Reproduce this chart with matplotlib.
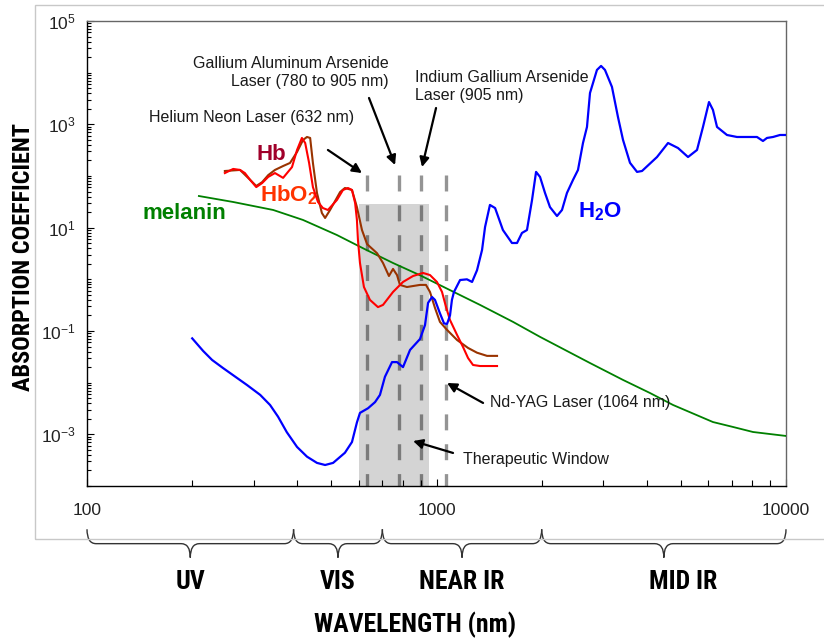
import numpy as np
import matplotlib
matplotlib.use("Agg")
import matplotlib.pyplot as plt
from matplotlib.path import Path
from matplotlib.patches import PathPatch, Rectangle
from matplotlib import font_manager
from matplotlib.font_manager import FontProperties
from matplotlib.ticker import FixedLocator, FixedFormatter, NullFormatter

# ---------------- data ----------------
water_nm = [200, 215, 228, 245, 287, 313, 334, 352, 373, 399,
            426, 455, 480, 506, 547, 573, 592, 604, 637, 667,
            689, 712, 746, 771, 802, 840, 897, 927, 946, 971,
            990, 1023, 1051, 1072, 1093, 1107, 1122, 1168, 1222, 1264,
            1306, 1350, 1377, 1422, 1471, 1549, 1644, 1700, 1756, 1815,
            1876, 1927, 1978, 2044, 2112, 2212, 2286, 2362, 2458, 2540,
            2625, 2695, 2749, 2878, 2957, 3034, 3177, 3305, 3417, 3578,
            3748, 3873, 4275, 4597, 4909, 5244, 5564, 5787, 6021, 6180,
            6348, 6778, 7240, 8260, 8592, 8822, 9180, 9612, 10000]
water_abs = [0.072, 0.041, 0.0275, 0.0192, 0.009, 0.0058, 0.0037, 0.0022, 0.0011, 0.00057,
             0.00037, 0.00028, 0.000255, 0.00028, 0.00044, 0.00071, 0.0017, 0.0026, 0.0032, 0.0042,
             0.0058, 0.013, 0.025, 0.025, 0.020, 0.043, 0.070, 0.13, 0.35, 0.455,
             0.40, 0.22, 0.14, 0.137, 0.20, 0.40, 0.57, 0.97, 1.0, 0.89,
             1.5, 3.7, 10.3, 27.5, 24, 9.0, 5.05, 5.05, 7.9, 9.0,
             34, 120, 96, 47, 25, 16.8, 22, 47, 84, 131,
             435, 890, 4040, 11300, 13500, 11300, 5300, 1390, 500, 180,
             120, 125, 233, 435, 348, 233, 319, 890, 2700, 1900,
             890, 622, 569, 569, 476, 545, 569, 622, 622]

melanin_nm = [209, 262, 341, 415, 519, 616, 751, 897, 1072, 1332,
              1656, 1978, 2749, 3417, 4083, 4751, 6180, 7050, 8045, 10000]
melanin_abs = [41, 31.4, 22, 14.1, 7.2, 4.0, 2.07, 1.2, 0.66, 0.32,
               0.15, 0.077, 0.024, 0.0113, 0.0063, 0.0037, 0.00173, 0.00139, 0.00111, 0.00093]

hbo2_nm = [248, 262, 274, 283, 293, 305, 317, 330, 345, 364,
           386, 399, 412, 421, 432, 443, 458, 473, 489, 519,
           540, 558, 573, 585, 592, 596, 604, 620, 645, 680,
           703, 751, 802, 857, 915, 958, 1003, 1037, 1065, 1093,
           1145, 1191, 1231, 1272, 1332, 1490]
hbo2_abs = [114, 137, 131, 114, 84, 61, 73, 96, 114, 92,
            149, 319, 545, 435, 179, 61, 31.4, 24, 22, 34.4,
            53.6, 58.6, 53.6, 30, 14.1, 5.8, 2.07, 0.71, 0.40, 0.29,
            0.32, 0.57, 0.89, 1.16, 1.33, 1.21, 0.89, 0.57, 0.29, 0.163,
            0.084, 0.049, 0.030, 0.022, 0.021, 0.021]

hb_nm = [248, 274, 293, 305, 317, 330, 345, 364, 381, 399,
         415, 426, 435, 443, 455, 470, 480, 496, 530, 547,
         573, 592, 612, 633, 676, 703, 731, 751, 771, 786,
         823, 897, 933, 958, 990, 1023, 1072, 1145, 1231, 1306,
         1395, 1490]
hb_abs = [125, 131, 84, 64, 76, 104, 131, 156, 179, 292,
          498, 569, 545, 179, 46.9, 19.2, 15.4, 22, 49, 58.6,
          53.6, 25, 9.0, 4.8, 3.2, 2.07, 1.16, 1.59, 1.21, 0.78,
          0.71, 0.78, 0.78, 0.57, 0.28, 0.15, 0.105, 0.067, 0.047, 0.038,
          0.033, 0.033]

laser_nm = [632, 780, 905, 1064]
laser_top = 105
window_nm = [600, 950]
window_top = 29

band_edges = [100, 390, 700, 2000, 10000]
band_labels = ["UV", "VIS", "NEAR IR", "MID IR"]

x_ticks = [100, 1000, 10000]
x_tick_labels = ["100", "1000", "10000"]
y_ticks = [1e-3, 1e-1, 1e1, 1e3, 1e5]
y_tick_labels = [r"$\mathregular{10^{-3}}$", r"$\mathregular{10^{-1}}$", r"$\mathregular{10^{1}}$",
                 r"$\mathregular{10^{3}}$", r"$\mathregular{10^{5}}$"]

# ---------------- fonts ----------------
plt.rcParams["font.family"] = ["Liberation Sans", "DejaVu Sans"]
plt.rcParams["mathtext.fontset"] = "custom"
plt.rcParams["mathtext.rm"] = "Liberation Sans"
plt.rcParams["mathtext.bf"] = "Liberation Sans:bold"
plt.rcParams["mathtext.it"] = "Liberation Sans:italic"
plt.rcParams["lines.scale_dashes"] = False


def find_narrow_bold():
    """Return the file of a condensed bold face if one is installed."""
    best = None
    prefs = ["Liberation Sans Narrow", "Arial Narrow", "Roboto Condensed", "DejaVu Sans"]
    for f in font_manager.fontManager.ttflist:
        fn = f.fname.lower()
        condensed = ("narrow" in fn or "condensed" in fn or
                     f.stretch in ("condensed", "semi-condensed", "extra-condensed"))
        if not condensed:
            continue
        w = f.weight if isinstance(f.weight, int) else (700 if "bold" in str(f.weight) else 400)
        if w < 600 or "italic" in fn or "oblique" in fn:
            continue
        rank = prefs.index(f.name) if f.name in prefs else len(prefs)
        if best is None or rank < best[0]:
            best = (rank, f.fname)
    return best[1] if best else None


narrow_file = find_narrow_bold()


def big_font(size):
    if narrow_file:
        return FontProperties(fname=narrow_file, size=size)
    return FontProperties(family="Liberation Sans", weight="bold", size=size * 0.84)


W, H = 824, 638
fig = plt.figure(figsize=(W / 100, H / 100), dpi=100)
fig.patch.set_facecolor("white")
ax = fig.add_axes([87 / W, 1 - 486 / H, 699 / W, 465 / H])

# outer light-grey chart-area frame
fig.add_artist(Rectangle((35 / W, 1 - 539 / H), (900 - 35) / W, (539 - 5) / H,
                         transform=fig.transFigure, fill=False, ec="#c8c8c8", lw=1.0))

ax.set_xscale("log")
ax.set_yscale("log")
ax.set_xlim(100, 10000)
ax.set_ylim(1e-4, 1e5)

# therapeutic window shading
ax.fill_between(window_nm, [1e-4, 1e-4], [window_top, window_top], color="#d4d4d4", lw=0, zorder=1)

# dashed laser lines
for xl in laser_nm:
    ax.plot([xl, xl], [laser_top, 1e-4], color="black", alpha=0.42, lw=2.4,
            dashes=(11.5, 10), solid_capstyle="butt", dash_capstyle="butt", zorder=2)

# curves
ax.plot(melanin_nm, melanin_abs, color="#008000", lw=1.3, zorder=3)
ax.plot(hb_nm, hb_abs, color="#993300", lw=1.5, zorder=4)
ax.plot(hbo2_nm, hbo2_abs, color="#ff0000", lw=1.5, zorder=5)
ax.plot(water_nm, water_abs, color="#0000ff", lw=1.6, zorder=6)

# axes styling
for s in ["left", "bottom"]:
    ax.spines[s].set_color("black")
    ax.spines[s].set_linewidth(1.0)
for s in ["top", "right"]:
    ax.spines[s].set_color("#666666")
    ax.spines[s].set_linewidth(1.0)

ax.xaxis.set_major_locator(FixedLocator(x_ticks))
ax.xaxis.set_major_formatter(FixedFormatter(x_tick_labels))
ax.xaxis.set_minor_locator(FixedLocator([m * d for d in (100, 1000) for m in range(2, 10)]))
ax.xaxis.set_minor_formatter(NullFormatter())
ax.yaxis.set_major_locator(FixedLocator(y_ticks))
ax.yaxis.set_major_formatter(FixedFormatter(y_tick_labels))
ax.yaxis.set_minor_locator(FixedLocator([m * 10.0 ** e for e in range(-4, 5) for m in range(1, 10)
                                         if not (m == 1 and (e % 2 != 0))]))
ax.yaxis.set_minor_formatter(NullFormatter())
ax.tick_params(axis="x", which="major", direction="in", length=5, width=0.8, pad=12,
               labelsize=12.5, top=False, colors="black")
ax.tick_params(axis="x", which="minor", direction="in", length=4, width=0.8, top=False)
ax.tick_params(axis="y", which="major", direction="in", length=5, width=0.8, pad=8,
               labelsize=12.5, right=False)
ax.tick_params(axis="y", which="minor", direction="in", length=3, width=0.8, right=False)
for lab in ax.get_xticklabels() + ax.get_yticklabels():
    lab.set_color("#222222")

# series labels
ax.text(0.243, 0.712, "Hb", transform=ax.transAxes, color="#a0002a", fontsize=16,
        fontweight="bold", ha="left", va="center")
ax.text(0.247, 0.625, r"$\mathbf{HbO_2}$", transform=ax.transAxes, color="#ff3300", fontsize=16,
        ha="left", va="center")
ax.text(0.079, 0.585, "melanin", transform=ax.transAxes, color="#008000", fontsize=16,
        fontweight="bold", ha="left", va="center")
ax.text(0.702, 0.590, r"$\mathbf{H_2O}$", transform=ax.transAxes, color="#0000ff", fontsize=16,
        ha="left", va="center")

# annotations
tcol = "#1a1a1a"
afs = 11.5
arrowprops = dict(arrowstyle="-|>", color="black", lw=1.6, mutation_scale=14, shrinkA=0, shrinkB=0)
ax.text(731, 9860, "Gallium Aluminum Arsenide\nLaser (780 to 905 nm)", ha="right", va="center",
        multialignment="right", fontsize=afs, color=tcol, linespacing=1.25)
ax.annotate("", xy=(761, 163), xytext=(641, 3236), arrowprops=arrowprops)
ax.text(868, 5280, "Indium Gallium Arsenide\nLaser (905 nm)", ha="left", va="center",
        multialignment="left", fontsize=afs, color=tcol, linespacing=1.25)
ax.annotate("", xy=(909, 149), xytext=(997, 2070), arrowprops=arrowprops)
ax.text(581, 1327, "Helium Neon Laser (632 nm)", ha="right", va="center", fontsize=afs, color=tcol)
ax.annotate("", xy=(612, 114), xytext=(489, 319), arrowprops=arrowprops)
ax.text(1422, 0.00405, "Nd-YAG Laser (1064 nm)", ha="left", va="center", fontsize=afs, color=tcol)
ax.annotate("", xy=(1072, 0.00986), xytext=(1359, 0.00405), arrowprops=arrowprops)
ax.text(1191, 0.000333, "Therapeutic Window", ha="left", va="center", fontsize=afs, color=tcol)
ax.annotate("", xy=(857, 0.000743), xytext=(1115, 0.000436), arrowprops=arrowprops)

# braces + band labels below the axis (axes coordinates)
def xa(v):
    return (np.log10(v) - 2.0) / 2.0

y_top, y_flat, y_tip = -0.093, -0.124, -0.154
r = 0.013
for i, lab in enumerate(band_labels):
    a, b = xa(band_edges[i]), xa(band_edges[i + 1])
    c = (a + b) / 2
    verts = [(a, y_top), (a, y_flat), (a + r, y_flat),
             (c - r, y_flat), (c, y_flat), (c, y_tip),
             (c, y_flat), (c + r, y_flat),
             (b - r, y_flat), (b, y_flat), (b, y_top)]
    codes = [Path.MOVETO, Path.CURVE3, Path.CURVE3,
             Path.LINETO, Path.CURVE3, Path.CURVE3,
             Path.CURVE3, Path.CURVE3,
             Path.LINETO, Path.CURVE3, Path.CURVE3]
    ax.add_patch(PathPatch(Path(verts, codes), transform=ax.transAxes, fill=False,
                           ec="#333333", lw=1.0, clip_on=False))
    cx = c + (0.028 if lab == "MID IR" else 0.0)
    ax.text(cx, -0.206, lab, transform=ax.transAxes, ha="center", va="center",
            fontproperties=big_font(18.5), color="black")

ax.text(0.469, -0.299, "WAVELENGTH (nm)", transform=ax.transAxes, ha="center", va="center",
        fontproperties=big_font(18.5), color="black")
fig.text(24 / W, 1 - 257 / H, "ABSORPTION COEFFICIENT", rotation=90, ha="center", va="center",
         fontproperties=big_font(17.5), color="black")

fig.savefig("out.png", dpi=100)
